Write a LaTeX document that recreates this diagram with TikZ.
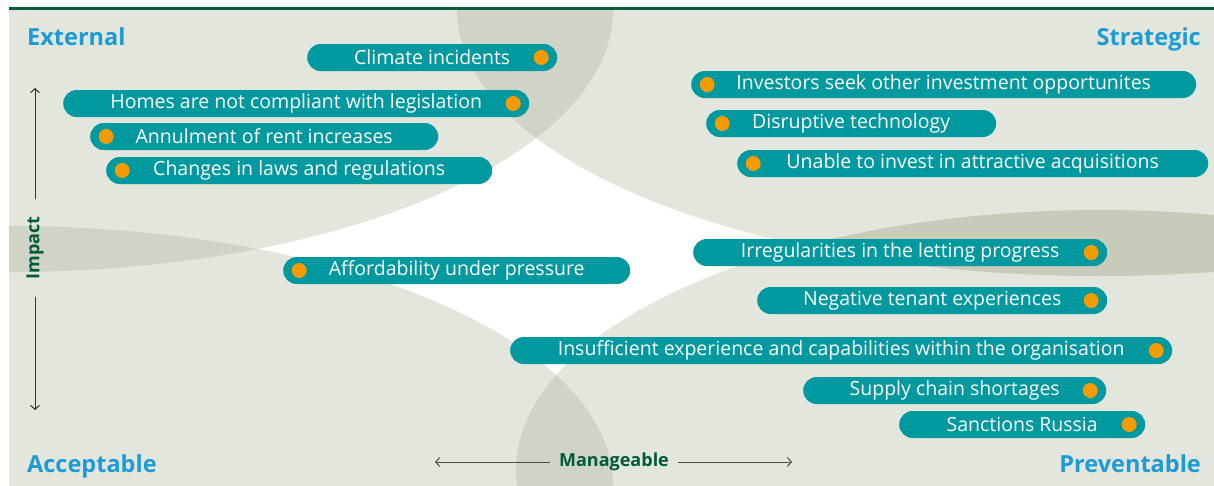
\documentclass[tikz,border=0pt]{standalone}
\usepackage{fontspec}
\setmainfont{Open Sans}
\usepackage{tikz}
\usetikzlibrary{arrows.meta}
\definecolor{panelgray}{HTML}{E3E6DD}
\definecolor{lensgray}{HTML}{D0D4C7}
\definecolor{lensdark}{HTML}{C8CBBA}
\definecolor{riskteal}{HTML}{00999F}
\definecolor{riskdot}{HTML}{F39B00}
\definecolor{headblue}{HTML}{1D9BD7}
\definecolor{axisgreen}{HTML}{005A3C}

\begin{document}
\begin{tikzpicture}[x=1pt, y=-1pt, >={Straight Barb[length=4pt, width=9pt]},
    risk/.style={fill=riskteal, text=white, rounded corners=13.5pt, minimum height=27pt, inner sep=0pt, anchor=west, font=\fontsize{19.5}{21}\selectfont},
    dotl/.style={risk, path picture={\fill[riskdot] ([xshift=16pt]path picture bounding box.west) circle (7.5pt);}},
    dotr/.style={risk, path picture={\fill[riskdot] ([xshift=-16pt]path picture bounding box.east) circle (7.5pt);}},
    corner/.style={text=headblue, font=\bfseries\fontsize{23.5}{26}\selectfont, inner sep=0pt},
    axislabel/.style={text=axisgreen, font=\bfseries\fontsize{18}{20}\selectfont, inner ysep=0pt},
    axisline/.style={->, line width=1pt, draw=black!80}]
    \useasboundingbox (0,0) rectangle (1214,485);
    \fill[white] (9,10) rectangle (1214,485);

    \begin{scope}
        \clip (9,10) rectangle (1214,485);
        \fill[panelgray] (9,10) ellipse [x radius=604pt, y radius=262pt];
        \fill[panelgray] (9,485) ellipse [x radius=604pt, y radius=259pt];
        \fill[panelgray] (1100,10) ellipse [x radius=643pt, y radius=266pt];
        \fill[panelgray] (1100,470) ellipse [x radius=584pt, y radius=260pt];
        \begin{scope}
            \clip (9,10) ellipse [x radius=604pt, y radius=262pt];
            \fill[lensgray] (1100,10) ellipse [x radius=643pt, y radius=266pt];
            \fill[lensgray] (9,485) ellipse [x radius=604pt, y radius=259pt];
        \end{scope}
        \begin{scope}
            \clip (1100,470) ellipse [x radius=584pt, y radius=260pt];
            \fill[lensdark] (1100,10) ellipse [x radius=643pt, y radius=266pt];
            \fill[lensgray] (9,485) ellipse [x radius=604pt, y radius=259pt];
        \end{scope}
    \end{scope}
    \draw[axisgreen, line width=2.5pt] (9,8.5) -- (1214,8.5);

    \node[corner, anchor=base west] (external) at (27,45) {External};
    \node[corner, anchor=base east] (strategic) at (1201,45) {Strategic};
    \node[corner, anchor=base west] (acceptable) at (27,472) {Acceptable};
    \node[corner, anchor=base east] (preventable) at (1201,472) {Preventable};

    \node[dotr, minimum width=250pt] (climate) at (307,57.5) {Climate incidents};
    \node[dotr, minimum width=466pt] (homes) at (63,103.5) {Homes are not compliant with legislation};
    \node[dotl, minimum width=348pt] (annul) at (90,136.5) {Annulment of rent increases};
    \node[dotl, minimum width=386pt] (laws) at (106,170.5) {Changes in laws and regulations};
    \node[dotl, minimum width=347pt] (afford) at (283,270.5) {Affordability under pressure};
    \node[dotl, minimum width=505pt] (investors) at (691,84.5) {Investors seek other investment opportunites};
    \node[dotl, minimum width=290pt] (disrupt) at (706,123.5) {Disruptive technology};
    \node[dotl, minimum width=471pt] (unable) at (737,163.5) {Unable to invest in attractive acquisitions};
    \node[dotr, minimum width=414pt] (letting) at (693,252.5) {Irregularities in the letting progress};
    \node[dotr, minimum width=350pt] (tenant) at (757,300.5) {Negative tenant experiences};
    \node[dotr, minimum width=662pt] (insuff) at (510,350.5) {Insufficient experience and capabilities within the organisation};
    \node[dotr, minimum width=303pt] (supply) at (803,390.5) {Supply chain shortages};
    \node[dotr, minimum width=246pt] (sanctions) at (899,424.5) {Sanctions Russia};

    \node[axislabel, rotate=90, inner xsep=17pt] (impact) at (35,248) {Impact};
    \node[axislabel, inner xsep=9pt] (manage) at (614,462) {Manageable};
    \coordinate (imptop) at (35,88);
    \coordinate (impbot) at (35,410);
    \coordinate (manleft) at (435,462);
    \coordinate (manright) at (792,462);

    \draw[axisline] (impact.east) -- (imptop);
    \draw[axisline] (impact.west) -- (impbot);
    \draw[axisline, draw=black!70] (manage.west) -- (manleft);
    \draw[axisline, draw=black!70] (manage.east) -- (manright);
\end{tikzpicture}
\end{document}
